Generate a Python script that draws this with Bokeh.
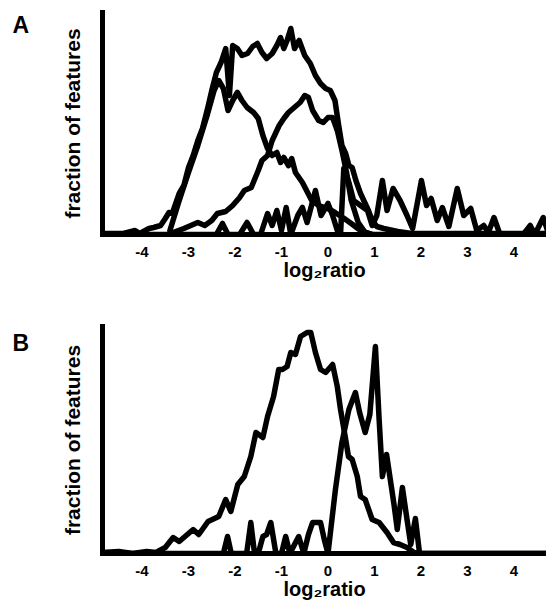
from bokeh.plotting import figure
from bokeh.layouts import column, row
from bokeh.models import Range1d, FixedTicker
from bokeh.core.properties import value
from bokeh.embed import file_html
from bokeh.resources import INLINE

# ---------------- data (log2 ratio vs relative fraction of features) ----------------
tick_vals = [-4, -3, -2, -1, 0, 1, 2, 3, 4]
tick_labels = ["-4", "-3", "-2", "-1", "0", "1", "2", "3", "4"]

# Panel A - total distribution
a_total_x = [-4.85, -4.4, -4.15, -4.05, -3.85, -3.75, -3.6, -3.5, -3.42, -3.35, -3.2, -3.1,
             -3.0, -2.9, -2.8, -2.7, -2.6, -2.5, -2.4, -2.3, -2.2, -2.12, -2.05, -1.95,
             -1.85, -1.73, -1.62, -1.52, -1.42, -1.32, -1.2, -1.1, -1.02, -0.95, -0.88,
             -0.8, -0.72, -0.62, -0.5, -0.38, -0.27, -0.16, -0.05, 0.05, 0.15, 0.23, 0.3,
             0.38, 0.45, 0.52, 0.6, 0.7, 0.8, 0.87, 0.95, 1.05, 1.2, 1.5, 1.8, 3.0, 5.0]
a_total_y = [1, 1, 4, 1, 6, 7, 9, 16, 22, 21, 41, 49,
             67, 79, 94, 106, 124, 144, 162, 172, 186, 139, 189, 186,
             179, 181, 188, 191, 182, 176, 181, 189, 197, 186, 194,
             206, 186, 194, 179, 171, 159, 151, 146, 144, 134, 109, 89,
             81, 69, 67, 54, 41, 31, 24, 14, 8, 6, 3, 1, 1, 1]

# Panel A - subset peaking near -2.2
a_low_x = [-3.4, -3.2, -3.0, -2.8, -2.6, -2.45, -2.35, -2.25, -2.15, -2.05, -1.95, -1.85,
           -1.74, -1.6, -1.5, -1.4, -1.3, -1.2, -1.1, -1.02, -0.95, -0.85, -0.78, -0.7,
           -0.55, -0.35, -0.2, 0.0, 0.15, 0.35, 0.5, 0.7, 0.95, 5.0]
a_low_y = [4, 34, 62, 89, 119, 144, 154, 146, 124, 134, 142, 134,
           127, 122, 116, 99, 86, 79, 82, 72, 77, 69, 76, 62,
           52, 34, 29, 26, 22, 16, 11, 4, 0, 0]

# Panel A - subset peaking near -0.5
a_mid_x = [-3.45, -3.1, -2.9, -2.8, -2.65, -2.5, -2.38, -2.2, -2.05, -1.9, -1.8, -1.65,
           -1.5, -1.42, -1.3, -1.2, -1.05, -0.95, -0.85, -0.75, -0.6, -0.5, -0.42, -0.33,
           -0.2, -0.1, 0.0, 0.1, 0.2, 0.3, 0.4, 0.5, 0.65, 0.8, 0.95]
a_mid_y = [0, 6, 10, 12, 9, 14, 21, 23, 29, 37, 44, 47,
           64, 74, 79, 94, 109, 116, 122, 126, 132, 139, 137, 124,
           114, 112, 117, 117, 104, 84, 62, 34, 12, 2, 0]

# Panel A - sparse subset (spiky)
a_high_x = [-4.85, -2.4, -2.27, -2.15, -1.9, -1.74, -1.6, -1.45, -1.3, -1.2, -1.1, -1.0,
            -0.9, -0.8, -0.65, -0.55, -0.45, -0.27, -0.15, 0.0, 0.1, 0.2, 0.27, 0.34,
            0.45, 0.55, 0.7, 0.85, 0.95, 1.05, 1.17, 1.27, 1.4, 1.55, 1.7, 1.82, 2.01,
            2.12, 2.22, 2.35, 2.46, 2.6, 2.78, 2.92, 3.07, 3.2, 3.35, 3.45, 3.57, 3.7,
            4.2, 4.35, 4.45, 4.63, 4.75, 5.0]
a_high_y = [0, 0, 11, 0, 0, 12, 0, 0, 21, 9, 24, 4,
            27, 0, 19, 27, 12, 44, 19, 31, 19, 4, 0, 66,
            52, 34, 29, 24, 9, 19, 54, 24, 46, 34, 19, 6, 54,
            29, 36, 14, 27, 8, 46, 19, 26, 4, 9, 2, 17, 0,
            0, 9, 0, 17, 0, 0]

# Panel B - broad distribution
b_main_x = [-4.85, -4.5, -4.2, -3.9, -3.7, -3.5, -3.33, -3.2, -3.1, -2.9, -2.78, -2.58,
            -2.35, -2.2, -2.09, -1.94, -1.8, -1.66, -1.55, -1.4, -1.3, -1.17, -1.06, -0.98,
            -0.88, -0.8, -0.7, -0.59, -0.45, -0.37, -0.27, -0.16, -0.05, 0.1, 0.2, 0.27,
            0.37, 0.44, 0.52, 0.63, 0.7, 0.8, 0.95, 1.1, 1.27, 1.41, 1.55, 1.7, 1.85, 2.0, 5.0]
b_main_y = [1, 2, 0, 2, 1, 6, 16, 12, 16, 24, 19, 32,
            37, 54, 42, 69, 77, 97, 121, 116, 137, 157, 184, 184,
            187, 201, 199, 217, 221, 221, 201, 184, 181, 189, 167, 144,
            117, 97, 94, 77, 57, 54, 34, 31, 21, 11, 9, 6, 1, 0, 0]

# Panel B - shifted subset
b_alt_x = [-4.85, -2.25, -2.16, -2.08, -1.75, -1.66, -1.58, -1.5, -1.4, -1.32, -1.23, -1.12,
           -1.0, -0.91, -0.82, -0.72, -0.63, -0.52, -0.42, -0.33, -0.16, -0.08, 0.0, 0.16,
           0.3, 0.45, 0.59, 0.68, 0.8, 0.9, 1.02, 1.1, 1.17, 1.26, 1.34, 1.42, 1.49, 1.6,
           1.7, 1.78, 1.88, 1.97, 5.0]
b_alt_y = [0, 0, 17, 0, 0, 31, 0, 0, 17, 19, 31, 0,
           0, 17, 0, 9, 17, 0, 19, 31, 31, 14, 0, 64,
           111, 144, 161, 141, 121, 139, 207, 134, 77, 99, 74, 49, 24, 66,
           34, 9, 35, 0, 0]

panel_letters = ["A", "B"]

FONT = "Liberation Sans"
X0, X1 = -4.85, 4.70
STRIP_W = 40  # narrow strip on the left that carries the panel letter


def letter_strip(letter, height, baseline_from_top):
    s = figure(width=STRIP_W, height=height, output_backend="svg", toolbar_location=None,
               x_range=Range1d(0, STRIP_W), y_range=Range1d(height, 0),
               x_axis_location=None, y_axis_location=None,
               min_border=0, min_border_left=0, min_border_right=0,
               min_border_top=0, min_border_bottom=0)
    s.outline_line_color = None
    s.xgrid.visible = False
    s.ygrid.visible = False
    s.background_fill_color = "white"
    s.border_fill_color = "white"
    s.text(x=[12], y=[baseline_from_top], text=[letter], text_font=value(FONT),
           text_font_style="bold", text_font_size="23px", text_color="black",
           text_baseline="alphabetic", text_align="left")
    return s


def make_panel(series, height, border_top, border_bottom, y_top):
    p = figure(width=546 - STRIP_W, height=height, output_backend="svg", toolbar_location=None,
               x_range=Range1d(X0, X1), y_range=Range1d(0, y_top),
               min_border_left=102 - STRIP_W, min_border_right=0,
               min_border_top=border_top, min_border_bottom=border_bottom)
    p.outline_line_color = None
    p.xgrid.visible = False
    p.ygrid.visible = False
    p.background_fill_color = "white"
    p.border_fill_color = "white"

    for xs, ys in series:
        p.line(xs, ys, line_color="black", line_width=5.5, line_join="round", line_cap="round")

    ax = p.xaxis[0]
    ax.ticker = FixedTicker(ticks=tick_vals)
    ax.major_label_overrides = {v: t for v, t in zip(tick_vals, tick_labels)}
    ax.major_tick_line_color = None
    ax.minor_tick_line_color = None
    ax.major_tick_out = 0
    ax.major_tick_in = 0
    ax.axis_line_width = 5
    ax.axis_line_cap = "square"
    ax.major_label_standoff = 12
    ax.major_label_text_font = FONT
    ax.major_label_text_font_style = "bold"
    ax.major_label_text_font_size = "15px"
    ax.major_label_text_color = "black"
    ax.axis_label = "log\u2082ratio"
    ax.axis_label_text_font = FONT
    ax.axis_label_text_font_style = "bold"
    ax.axis_label_text_font_size = "20px"
    ax.axis_label_text_color = "black"
    ax.axis_label_standoff = -1

    ay = p.yaxis[0]
    ay.ticker = FixedTicker(ticks=[])
    ay.major_tick_line_color = None
    ay.minor_tick_line_color = None
    ay.major_tick_out = 0
    ay.major_tick_in = 0
    ay.axis_line_width = 5
    ay.axis_line_cap = "square"
    ay.axis_label = "fraction of features"
    ay.axis_label_text_font = FONT
    ay.axis_label_text_font_style = "bold"
    ay.axis_label_text_font_size = "21px"
    ay.axis_label_text_color = "black"
    ay.axis_label_standoff = 19
    return p


pA = make_panel([(a_total_x, a_total_y), (a_low_x, a_low_y), (a_mid_x, a_mid_y),
                 (a_high_x, a_high_y)], 300, 12, 66, 222)
pB = make_panel([(b_main_x, b_main_y), (b_alt_x, b_alt_y)], 308, 26, 55, 227)
sA = letter_strip(panel_letters[0], 300, 17)
sB = letter_strip(panel_letters[1], 308, 23)

layout = column(row(sA, pA, spacing=0), row(sB, pB, spacing=0), spacing=0)
open("out.html", "w").write(file_html(layout, INLINE))
